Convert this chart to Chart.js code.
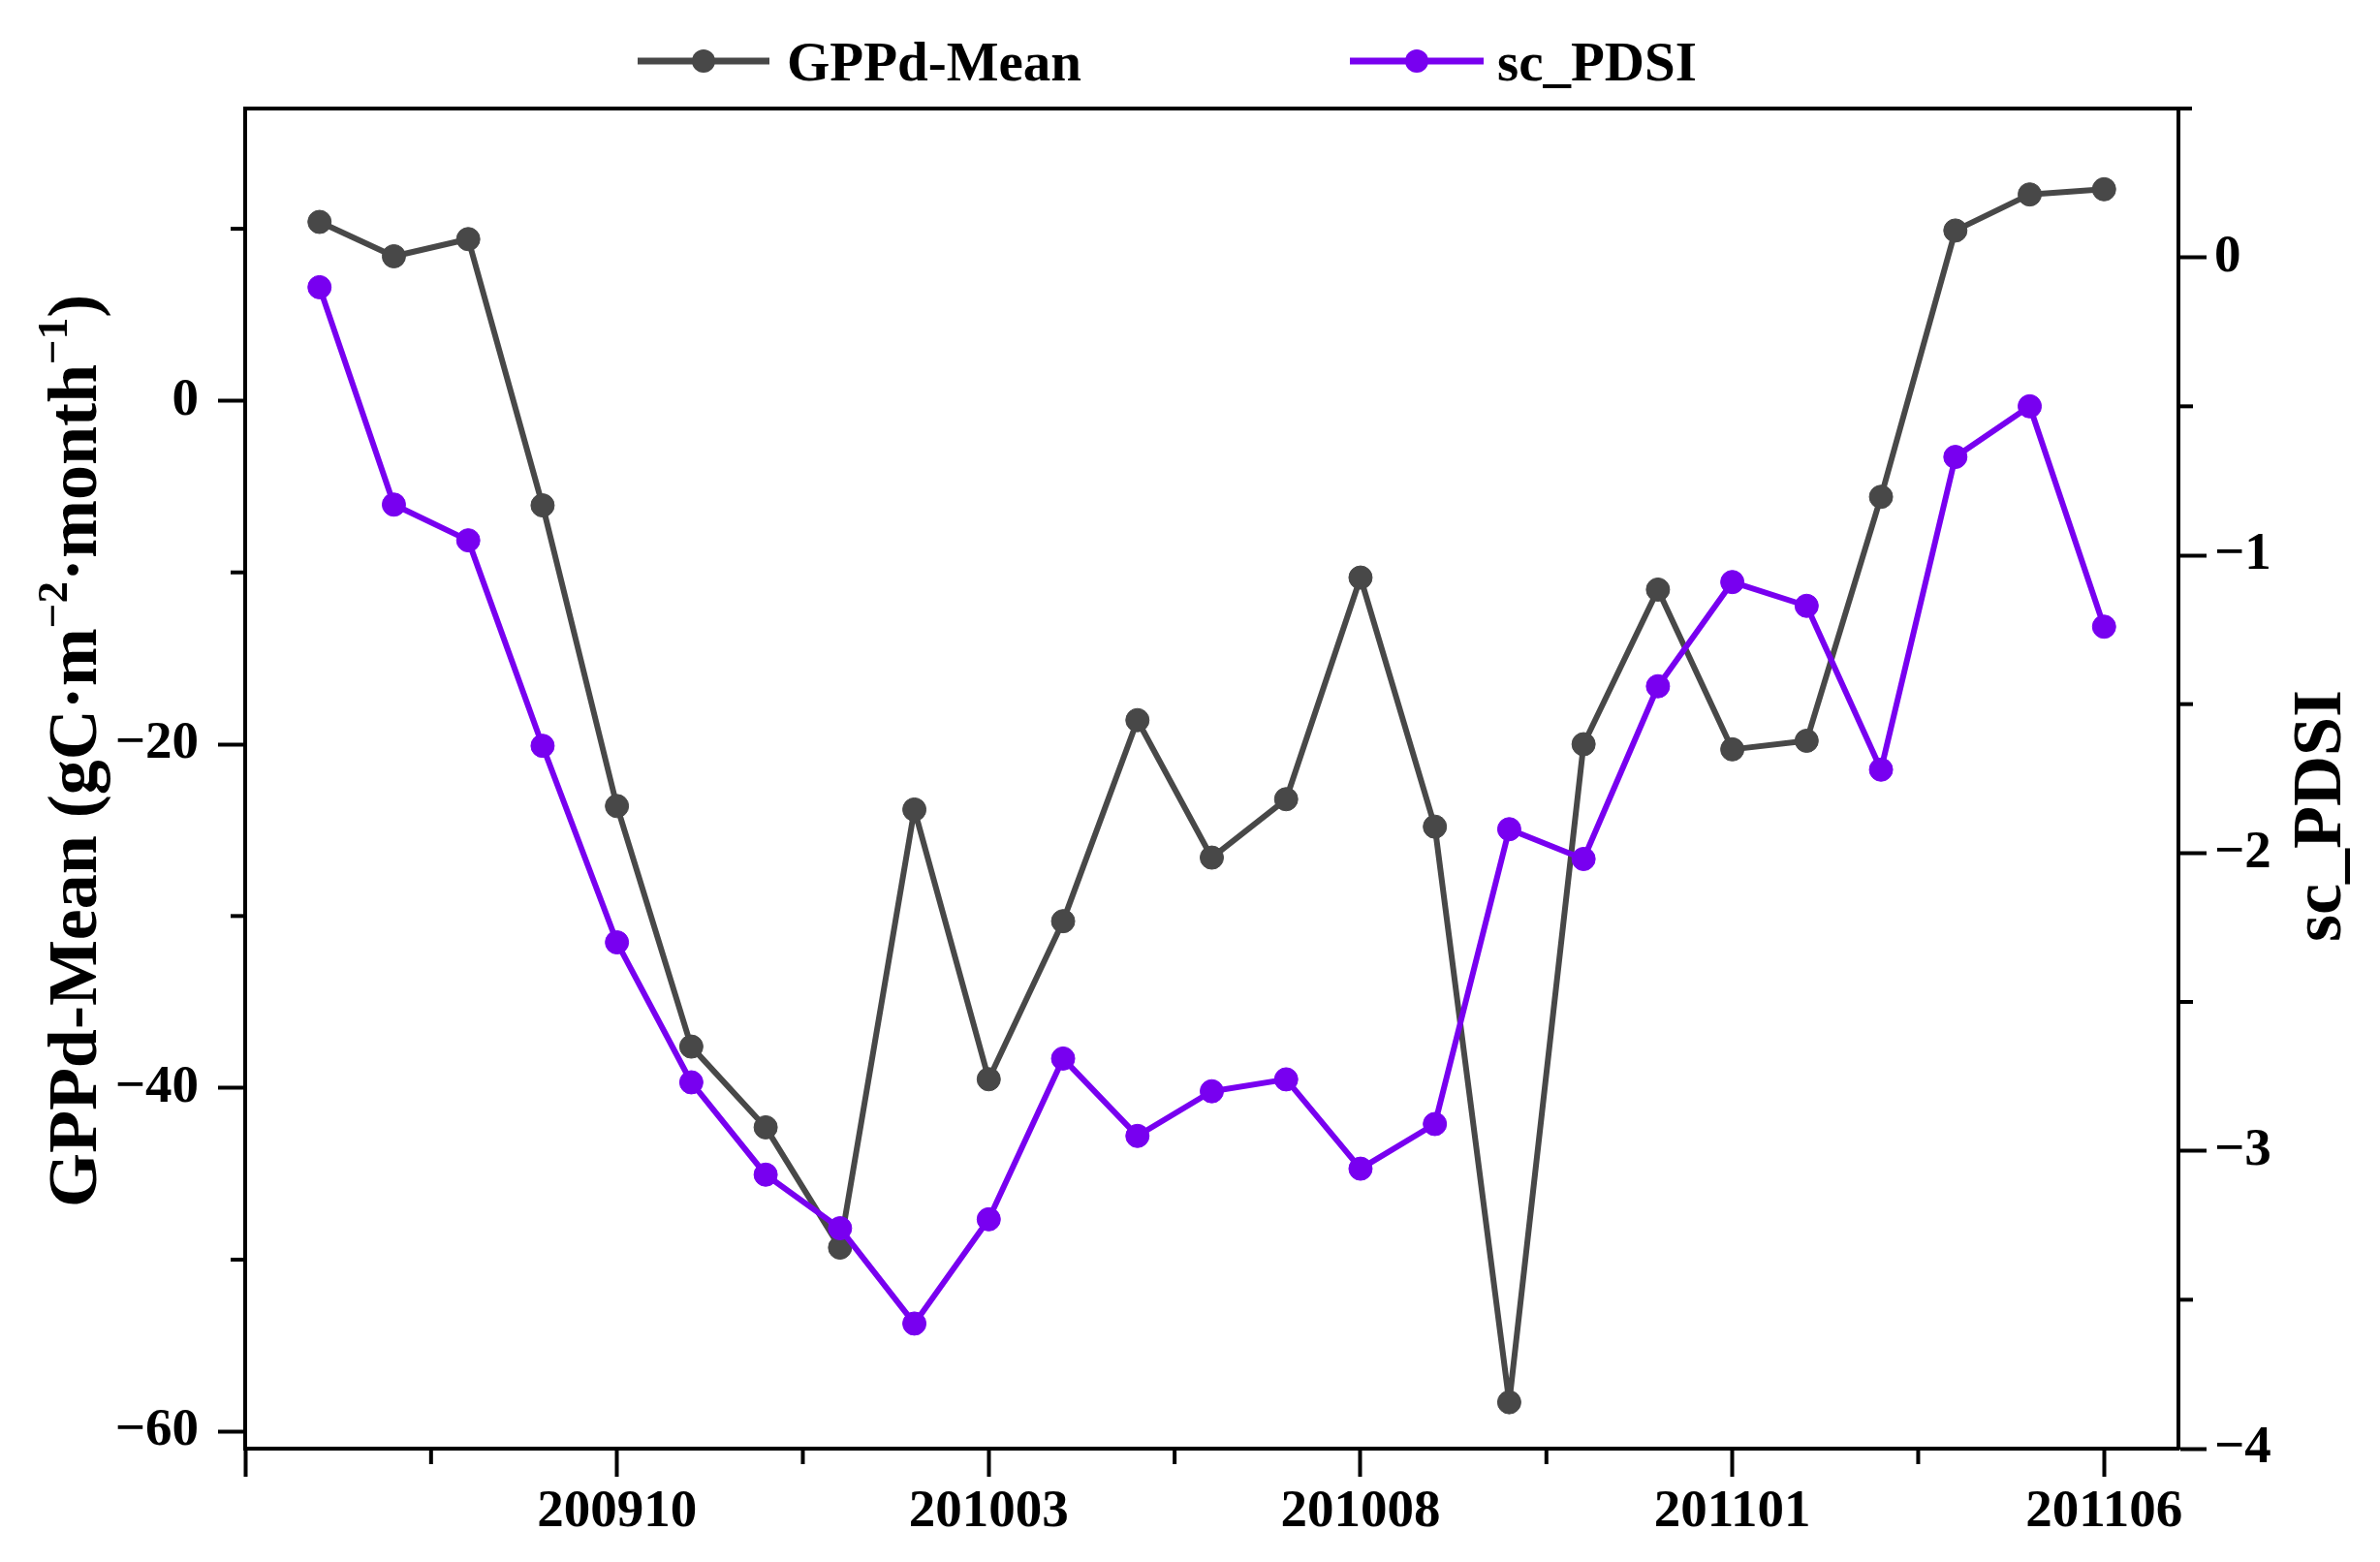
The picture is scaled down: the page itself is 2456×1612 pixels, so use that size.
<!DOCTYPE html>
<html><head><meta charset="utf-8">
<script src="https://cdn.jsdelivr.net/npm/chart.js@4/dist/chart.umd.min.js"></script>
<style>html,body{margin:0;padding:0;background:#fff;} canvas{display:block;}</style>
</head><body>
<canvas id="c" width="2456" height="1612"></canvas>
<script>
// ---- data ----
const months = ['200906','200907','200908','200909','200910','200911','200912','201001','201002','201003',
                '201004','201005','201006','201007','201008','201009','201010','201011','201012','201101',
                '201102','201103','201104','201105','201106'];
const gppMean = [10.4, 8.4, 9.4, -6.1, -23.6, -37.6, -42.3, -49.3, -23.8, -39.5,
                 -30.3, -18.6, -26.6, -23.2, -10.3, -24.8, -58.3, -20.0, -11.0, -20.3,
                 -19.8, -5.6, 9.9, 12.0, 12.3];
const scPDSI = [-0.10, -0.83, -0.95, -1.64, -2.30, -2.77, -3.08, -3.26, -3.58, -3.23,
                -2.69, -2.95, -2.80, -2.76, -3.06, -2.91, -1.92, -2.02, -1.44, -1.09,
                -1.17, -1.72, -0.67, -0.50, -1.24];
const seriesNames = ['GPPd-Mean', 'sc_PDSI'];
const leftTitleParts = [
  {t: 'GPPd-Mean (gC\u00B7m', sup: false},
  {t: '\u22122', sup: true},
  {t: '\u00B7month', sup: false},
  {t: '\u22121', sup: true},
  {t: ')', sup: false}
];
const rightTitle = 'sc_PDSI';
const leftRange = [-61, 17];
const rightRange = [-4, 0.5];
const xRange = [0, 26];

// ---- style ----
const FONT = "'Liberation Serif', 'Times New Roman', serif";
const GRAY = '#484848', PURPLE = '#7800f0';
const minus = v => String(v).replace('-', '\u2212');
const isMult = (v, m) => Math.abs(v / m - Math.round(v / m)) < 1e-6;
const toPoints = arr => arr.map((y, i) => ({x: i + 1, y}));
const tickFont = {family: FONT, size: 55, weight: 'bold'};

const decor = {
  id: 'decor',
  afterDraw(chart) {
    const ctx = chart.ctx, a = chart.chartArea;
    const ln = (x1, y1, x2, y2) => { ctx.beginPath(); ctx.moveTo(x1, y1); ctx.lineTo(x2, y2); ctx.stroke(); };
    ctx.save();
    ctx.strokeStyle = '#000'; ctx.lineWidth = 4; ctx.lineCap = 'butt';
    // top frame line
    ln(a.left - 2, a.top, a.right + 14, a.top);
    // minor ticks
    const sx = chart.scales.x, yl = chart.scales.yL, yr = chart.scales.yR;
    sx.ticks.forEach(t => { if (!isMult(t.value, 5)) { const p = sx.getPixelForValue(t.value); ln(p, a.bottom, p, a.bottom + 16); } });
    yl.ticks.forEach(t => { if (!isMult(t.value, 20)) { const p = yl.getPixelForValue(t.value); ln(a.left, p, a.left - 15, p); } });
    yr.ticks.forEach(t => { if (!isMult(t.value, 1) && t.value < rightRange[1]) { const p = yr.getPixelForValue(t.value); ln(a.right, p, a.right + 15, p); } });

    // legend
    const items = [
      {name: seriesNames[0], color: GRAY, x1: 658, x2: 794, tx: 812},
      {name: seriesNames[1], color: PURPLE, x1: 1393, x2: 1531, tx: 1545}
    ];
    const ly = 63;
    items.forEach(it => {
      ctx.strokeStyle = it.color; ctx.lineWidth = 7;
      ln(it.x1, ly, it.x2, ly);
      ctx.fillStyle = it.color;
      ctx.beginPath(); ctx.arc((it.x1 + it.x2) / 2, ly, 12, 0, Math.PI * 2); ctx.fill();
      ctx.fillStyle = '#000';
      ctx.font = `bold 57px ${FONT}`;
      ctx.textAlign = 'left'; ctx.textBaseline = 'alphabetic';
      ctx.fillText(it.name, it.tx, 83);
    });

    // left title (rotated, with superscripts)
    const size = 72;
    ctx.save();
    ctx.translate(99, 775);
    ctx.rotate(-Math.PI / 2);
    ctx.fillStyle = '#000'; ctx.textAlign = 'left'; ctx.textBaseline = 'alphabetic';
    const setF = p => { ctx.font = `bold ${p.sup ? Math.round(size * 0.62) : size}px ${FONT}`; };
    let total = 0;
    leftTitleParts.forEach(p => { setF(p); total += ctx.measureText(p.t).width; });
    let x = -total / 2;
    leftTitleParts.forEach(p => { setF(p); ctx.fillText(p.t, x, p.sup ? -size * 0.42 : 0); x += ctx.measureText(p.t).width; });
    ctx.restore();

    // right title
    ctx.save();
    ctx.translate(2415, 842);
    ctx.rotate(-Math.PI / 2);
    ctx.fillStyle = '#000'; ctx.textAlign = 'center'; ctx.textBaseline = 'alphabetic';
    ctx.font = `bold ${size}px ${FONT}`;
    ctx.fillText(rightTitle, 0, 0);
    ctx.restore();

    ctx.restore();
  }
};

const lineDs = (label, arr, axis, color, order) => ({
  label, data: toPoints(arr), yAxisID: axis,
  borderColor: color, backgroundColor: color,
  pointBackgroundColor: color, pointBorderColor: color,
  borderWidth: 6, pointRadius: 12, pointBorderWidth: 1, pointHoverRadius: 12,
  borderJoinStyle: 'round', borderCapStyle: 'round',
  tension: 0, order, clip: false
});

new Chart(document.getElementById('c'), {
  type: 'line',
  data: {
    datasets: [
      lineDs(seriesNames[0], gppMean, 'yL', GRAY, 2),
      lineDs(seriesNames[1], scPDSI, 'yR', PURPLE, 1)
    ]
  },
  options: {
    responsive: false, animation: false, devicePixelRatio: 1,
    layout: {padding: {top: 112, left: 0, right: 0, bottom: 0}},
    plugins: {legend: {display: false}, tooltip: {enabled: false}, title: {display: false}},
    scales: {
      x: {
        type: 'linear', position: 'bottom', min: xRange[0], max: xRange[1],
        afterFit: s => { s.height = 117; },
        grid: {drawOnChartArea: false, drawTicks: true, tickLength: 29, tickWidth: 4,
               tickColor: c => (c.tick && isMult(c.tick.value, 5)) ? '#000' : 'rgba(0,0,0,0)'},
        border: {display: true, color: '#000', width: 4},
        ticks: {stepSize: 2.5, includeBounds: false, autoSkip: false, maxRotation: 0, minRotation: 0,
                maxTicksLimit: 100, padding: 4, color: '#000', font: tickFont,
                callback: v => (isMult(v, 5) && v > 0 && v <= months.length) ? months[Math.round(v) - 1] : ''}
      },
      yL: {
        type: 'linear', position: 'left', min: leftRange[0], max: leftRange[1],
        afterFit: s => { s.width = 253; },
        grid: {drawOnChartArea: false, drawTicks: true, tickLength: 28, tickWidth: 4,
               tickColor: c => (c.tick && isMult(c.tick.value, 20)) ? '#000' : 'rgba(0,0,0,0)'},
        border: {display: true, color: '#000', width: 4},
        ticks: {stepSize: 10, includeBounds: false, autoSkip: false, maxTicksLimit: 100, padding: 20,
                color: '#000', font: tickFont,
                callback: v => isMult(v, 20) ? minus(v) : ''}
      },
      yR: {
        type: 'linear', position: 'right', min: rightRange[0], max: rightRange[1],
        afterFit: s => { s.width = 208; },
        grid: {drawOnChartArea: false, drawTicks: true, tickLength: 29, tickWidth: 4,
               tickColor: c => (c.tick && isMult(c.tick.value, 1)) ? '#000' : 'rgba(0,0,0,0)'},
        border: {display: true, color: '#000', width: 4},
        ticks: {stepSize: 0.5, includeBounds: false, autoSkip: false, maxTicksLimit: 100, padding: 8,
                color: '#000', font: tickFont,
                callback: v => isMult(v, 1) ? minus(v) : ''}
      }
    }
  },
  plugins: [decor]
});
</script>
</body></html>
